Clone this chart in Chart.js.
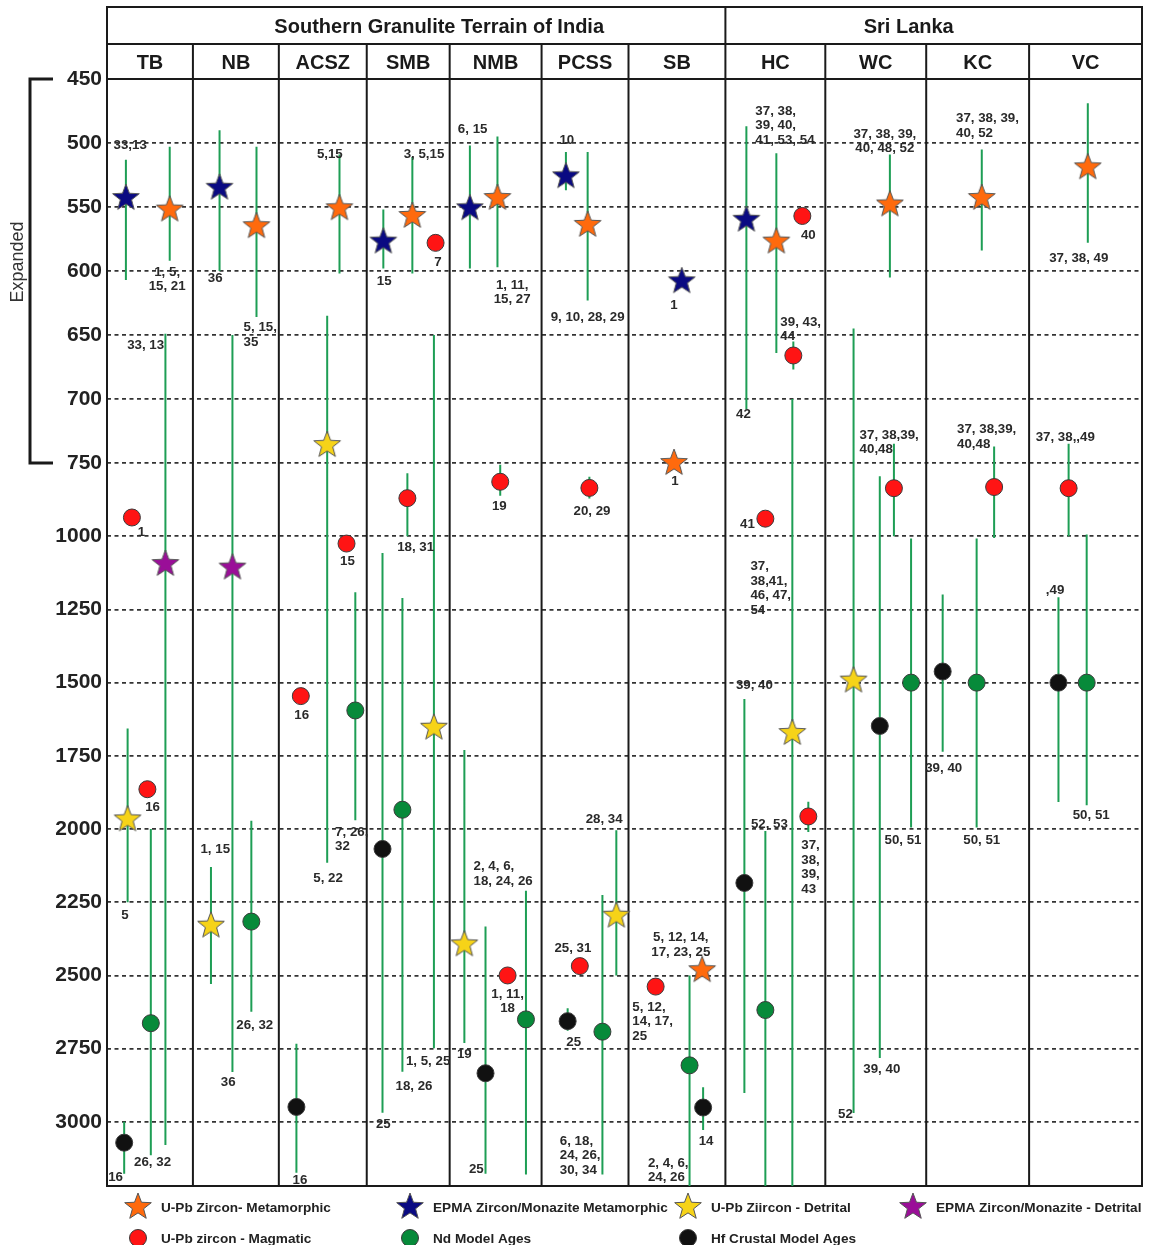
<!DOCTYPE html>
<html>
<head>
<meta charset="utf-8">
<script src="https://cdn.jsdelivr.net/npm/chart.js@4.4.1/dist/chart.umd.min.js"></script>
<style>
  html, body { margin: 0; padding: 0; background: #fff; }
  #wrap { width: 1157px; height: 1245px; }
</style>
</head>
<body>
<div id="wrap"><canvas id="grafico" width="1157" height="1245"></canvas></div>
<script>
// ================== DADOS ==================
const columns = ["TB", "NB", "ACSZ", "SMB", "NMB", "PCSS", "SB", "HC", "WC", "KC", "VC"];
const regionNames = ["Southern Granulite Terrain of India", "Sri Lanka"];
const regionFirstCol = ["TB", "HC"];
const yTicks = [450, 500, 550, 600, 650, 700, 750, 1000, 1250, 1500, 1750, 2000, 2250, 2500, 2750, 3000];
const AGE_MAX = 3219;

// [coluna, posição na coluna (0-1), idade Ma]
const metamorphic = [
  ["TB", 0.73, 552], ["NB", 0.74, 565], ["ACSZ", 0.69, 551], ["SMB", 0.55, 557], ["NMB", 0.52, 543],
  ["PCSS", 0.53, 564], ["SB", 0.47, 750], ["SB", 0.76, 2482], ["HC", 0.51, 577], ["WC", 0.64, 548],
  ["KC", 0.54, 543], ["VC", 0.52, 519]
];
const epmaMetamorphic = [
  ["TB", 0.22, 543], ["NB", 0.31, 535], ["SMB", 0.20, 577], ["NMB", 0.22, 551], ["PCSS", 0.28, 526],
  ["SB", 0.55, 608], ["HC", 0.21, 560]
];
const detrital = [
  ["TB", 0.24, 1967], ["NB", 0.21, 2330], ["ACSZ", 0.55, 736], ["SMB", 0.81, 1654], ["NMB", 0.16, 2394],
  ["PCSS", 0.86, 2296], ["HC", 0.67, 1672], ["WC", 0.28, 1493]
];
const epmaDetrital = [["TB", 0.68, 1095], ["NB", 0.46, 1107]];
const magmatic = [
  ["TB", 0.29, 936], ["TB", 0.47, 1864], ["ACSZ", 0.77, 1025], ["ACSZ", 0.25, 1546], ["SMB", 0.83, 578],
  ["SMB", 0.49, 870], ["NMB", 0.55, 814], ["NMB", 0.63, 2500], ["PCSS", 0.55, 835], ["PCSS", 0.44, 2468],
  ["SB", 0.28, 2538], ["HC", 0.77, 557], ["HC", 0.68, 666], ["HC", 0.40, 940], ["HC", 0.83, 1957],
  ["WC", 0.68, 836], ["KC", 0.66, 832], ["VC", 0.35, 836]
];
const ndModel = [
  ["TB", 0.51, 2663], ["NB", 0.68, 2316], ["ACSZ", 0.87, 1595], ["SMB", 0.43, 1934], ["NMB", 0.83, 2650],
  ["PCSS", 0.70, 2692], ["SB", 0.63, 2807], ["HC", 0.40, 2618], ["WC", 0.85, 1500], ["KC", 0.49, 1500],
  ["VC", 0.51, 1500]
];
const hfModel = [
  ["TB", 0.20, 3071], ["ACSZ", 0.20, 2949], ["SMB", 0.19, 2068], ["NMB", 0.39, 2834], ["PCSS", 0.30, 2656],
  ["SB", 0.77, 2951], ["HC", 0.19, 2184], ["WC", 0.54, 1648], ["KC", 0.16, 1462], ["VC", 0.26, 1500]
];

// [coluna, posição, idade mínima, idade máxima]
const ranges = [
  ["TB", 0.22, 513, 607], ["TB", 0.73, 503, 592], ["TB", 0.68, 649, 3079], ["TB", 0.24, 1657, 2250],
  ["TB", 0.51, 2000, 3114], ["TB", 0.20, 3000, 3177],
  ["NB", 0.31, 490, 600], ["NB", 0.74, 503, 636], ["NB", 0.46, 650, 2830], ["NB", 0.21, 2130, 2529],
  ["NB", 0.68, 1972, 2624],
  ["ACSZ", 0.69, 509, 602], ["ACSZ", 0.55, 635, 2115], ["ACSZ", 0.87, 1191, 1970], ["ACSZ", 0.20, 2733, 3174],
  ["SMB", 0.20, 552, 598], ["SMB", 0.55, 511, 602], ["SMB", 0.81, 650, 2749], ["SMB", 0.49, 785, 1000],
  ["SMB", 0.19, 1057, 2969], ["SMB", 0.43, 1211, 2829],
  ["NMB", 0.22, 502, 598], ["NMB", 0.52, 495, 597], ["NMB", 0.55, 756, 862], ["NMB", 0.16, 1730, 2731],
  ["NMB", 0.39, 2333, 3177], ["NMB", 0.83, 2211, 3180],
  ["PCSS", 0.28, 507, 537], ["PCSS", 0.53, 507, 623], ["PCSS", 0.55, 797, 871], ["PCSS", 0.86, 2004, 2500],
  ["PCSS", 0.30, 2612, 2689], ["PCSS", 0.70, 2225, 3180],
  ["SB", 0.63, 2500, 3219], ["SB", 0.77, 2882, 3028],
  ["HC", 0.21, 487, 708], ["HC", 0.51, 508, 664], ["HC", 0.68, 655, 677], ["HC", 0.67, 700, 3219],
  ["HC", 0.19, 1556, 2901], ["HC", 0.40, 2007, 3219], ["HC", 0.83, 1907, 2010],
  ["WC", 0.64, 509, 605], ["WC", 0.28, 645, 2970], ["WC", 0.68, 735, 1000], ["WC", 0.54, 795, 2782],
  ["WC", 0.85, 1008, 1995],
  ["KC", 0.54, 505, 584], ["KC", 0.66, 737, 1006], ["KC", 0.16, 1199, 1736], ["KC", 0.49, 1008, 1995],
  ["VC", 0.52, 469, 578], ["VC", 0.35, 735, 1000], ["VC", 0.26, 1208, 1908], ["VC", 0.51, 994, 1919]
];

// [coluna, posição, idade, texto, alinhamento]
const refLabels = [
  ["TB", 0.27, 502, "33,13"], ["TB", 0.70, 601, "1, 5,\n15, 21"], ["TB", 0.45, 658, "33, 13"],
  ["TB", 0.40, 986, "1"], ["TB", 0.21, 2293, "5"], ["TB", 0.53, 1925, "16"], ["TB", 0.53, 3137, "26, 32"],
  ["TB", 0.10, 3190, "16"],
  ["NB", 0.26, 606, "36"], ["NB", 0.59, 644, "5, 15,\n35", "left"], ["NB", 0.41, 2866, "36"],
  ["NB", 0.26, 2070, "1, 15"], ["NB", 0.72, 2671, "26, 32"],
  ["ACSZ", 0.58, 509, "5,15"], ["ACSZ", 0.56, 2170, "5, 22"], ["ACSZ", 0.78, 1087, "15"],
  ["ACSZ", 0.26, 1610, "16"], ["ACSZ", 0.64, 2010, "7, 26,\n32", "left"], ["ACSZ", 0.24, 3200, "16"],
  ["SMB", 0.21, 608, "15"], ["SMB", 0.69, 509, "3, 5,15"], ["SMB", 0.86, 593, "7"],
  ["SMB", 0.74, 2793, "1, 5, 25"], ["SMB", 0.59, 1037, "18, 31"], ["SMB", 0.20, 3010, "25"],
  ["SMB", 0.57, 2880, "18, 26"],
  ["NMB", 0.25, 489, "6, 15"], ["NMB", 0.68, 611, "1, 11,\n15, 27"], ["NMB", 0.54, 897, "19"],
  ["NMB", 0.16, 2771, "19"], ["NMB", 0.26, 2128, "2, 4, 6,\n18, 24, 26", "left"], ["NMB", 0.29, 3162, "25"],
  ["NMB", 0.63, 2564, "1, 11,\n18"],
  ["PCSS", 0.29, 498, "10"], ["PCSS", 0.53, 636, "9, 10, 28, 29"], ["PCSS", 0.58, 914, "20, 29"],
  ["PCSS", 0.72, 1967, "28, 34"], ["PCSS", 0.36, 2408, "25, 31"], ["PCSS", 0.37, 2729, "25"],
  ["PCSS", 0.21, 3065, "6, 18,\n24, 26,\n30, 34", "left"],
  ["SB", 0.47, 627, "1"], ["SB", 0.48, 814, "1"], ["SB", 0.04, 2608, "5, 12,\n14, 17,\n25", "left"],
  ["SB", 0.54, 2371, "5, 12, 14,\n17, 23, 25"], ["SB", 0.20, 3141, "2, 4, 6,\n24, 26", "left"],
  ["SB", 0.80, 3068, "14"],
  ["HC", 0.18, 712, "42"], ["HC", 0.30, 475, "37, 38,\n39, 40,\n41, 53, 54", "left"], ["HC", 0.83, 572, "40"],
  ["HC", 0.55, 640, "39, 43,\n44", "left"], ["HC", 0.22, 959, "41"],
  ["HC", 0.25, 1104, "37,\n38,41,\n46, 47,\n54", "left"], ["HC", 0.29, 1510, "39, 40"],
  ["HC", 0.44, 1984, "52, 53"], ["HC", 0.76, 2057, "37,\n38,\n39,\n43", "left"],
  ["WC", 0.59, 493, "37, 38, 39,\n40, 48, 52"], ["WC", 0.20, 2973, "52"],
  ["WC", 0.34, 728, "37, 38,39,\n40,48", "left"], ["WC", 0.56, 2821, "39, 40"], ["WC", 0.77, 2037, "50, 51"],
  ["KC", 0.29, 481, "37, 38, 39,\n40, 52", "left"], ["KC", 0.30, 724, "37, 38,39,\n40,48", "left"],
  ["KC", 0.17, 1791, "39, 40"], ["KC", 0.54, 2037, "50, 51"],
  ["VC", 0.44, 590, "37, 38, 49"], ["VC", 0.32, 730, "37, 38,,49"], ["VC", 0.23, 1184, ",49"],
  ["VC", 0.55, 1953, "50, 51"]
];

const legendLabels = [
  "U-Pb Zircon- Metamorphic", "EPMA Zircon/Monazite Metamorphic", "U-Pb Ziircon - Detrital",
  "EPMA Zircon/Monazite - Detrital", "U-Pb zircon - Magmatic", "Nd Model Ages", "Hf Crustal Model Ages"
];

// ================== LAYOUT / ESTILO ==================
const FONT = '"Liberation Sans", Arial, Helvetica, sans-serif';
const COL_W = [86, 86, 88, 83, 92, 87, 97, 100, 101, 103, 113];
const TOTAL_W = COL_W.reduce((a, b) => a + b, 0);
const EXP_PX = 64, CMP_PX = 73.2;   // escala expandida (50 Ma) x comprimida (250 Ma)
const REGION_DX = [23, -25];
const LEG_X = [138, 410, 688, 913];
const LEG_Y = [1207, 1238];
const COR = {
  meta: "#FF6A0D", epma: "#0A0A82", detr: "#F6D318", epmaDet: "#9A0E98",
  mag: "#FF1414", nd: "#078A3A", hf: "#111111", linha: "#1E9E55", texto: "#2a2a2a"
};

// ================== ESCALAS ==================
const kExp = EXP_PX / CMP_PX;
function pos(a) {
  return a <= 750 ? (a - 450) / 50 * kExp : 6 * kExp + (a - 750) / 250;
}
function colLeft(i) {
  let s = 0;
  for (let k = 0; k < i; k++) s += COL_W[k];
  return s;
}
function xOf(col, slot) {
  const i = columns.indexOf(col);
  return colLeft(i) + slot * COL_W[i];
}

// ================== ESTRELAS ==================
function estrela(cor) {
  const R = 14, r = R * 0.42, s = 32;
  const c = document.createElement("canvas");
  c.width = s; c.height = s;
  const g = c.getContext("2d");
  g.beginPath();
  for (let k = 0; k < 10; k++) {
    const rad = k % 2 ? r : R;
    const a = -Math.PI / 2 + k * Math.PI / 5;
    const px = s / 2 + rad * Math.cos(a), py = s / 2 + rad * Math.sin(a);
    if (k) g.lineTo(px, py); else g.moveTo(px, py);
  }
  g.closePath();
  g.fillStyle = cor; g.fill();
  g.lineWidth = 1; g.strokeStyle = "#555"; g.stroke();
  return c;
}
const estrelas = {
  meta: estrela(COR.meta), epma: estrela(COR.epma), detr: estrela(COR.detr), epmaDet: estrela(COR.epmaDet)
};

function pontos(lista) {
  return lista.map(([c, s, age]) => ({ x: xOf(c, s), y: pos(age) }));
}
const linhas = [];
ranges.forEach(([c, s, a, b]) => {
  const x = xOf(c, s);
  linhas.push({ x, y: pos(a) }, { x, y: pos(b) }, { x, y: null });
});

function dsEstrela(label, lista, img) {
  return { label, data: pontos(lista), pointStyle: img, pointRadius: 14, showLine: false };
}
function dsCirculo(label, lista, cor) {
  return {
    label, data: pontos(lista), pointStyle: "circle", pointRadius: 8.5,
    backgroundColor: cor, borderColor: "#3a3a3a", borderWidth: 1, showLine: false
  };
}

// ================== PLUGINS ==================
function linha(ctx, x1, y1, x2, y2) {
  ctx.beginPath(); ctx.moveTo(x1, y1); ctx.lineTo(x2, y2); ctx.stroke();
}

const quadro = {
  id: "quadro",
  beforeDatasetsDraw(chart) {
    const { ctx, chartArea: a, scales: { x } } = chart;
    const topo = 7, meio = 44;
    ctx.save();
    ctx.strokeStyle = "#1a1a1a";
    ctx.lineWidth = 2;
    ctx.strokeRect(a.left, topo, a.right - a.left, a.bottom - topo);
    linha(ctx, a.left, meio, a.right, meio);
    linha(ctx, a.left, a.top, a.right, a.top);
    const inicios = regionFirstCol.map(c => columns.indexOf(c));
    for (let i = 1; i < columns.length; i++) {
      const px = x.getPixelForValue(colLeft(i));
      linha(ctx, px, inicios.includes(i) ? topo : meio, px, a.bottom);
    }
    // cabeçalhos
    ctx.fillStyle = "#1a1a1a";
    ctx.textAlign = "center";
    ctx.textBaseline = "middle";
    ctx.font = "bold 20px " + FONT;
    regionNames.forEach((nome, r) => {
      const i0 = inicios[r];
      const i1 = r + 1 < inicios.length ? inicios[r + 1] : columns.length;
      const x0 = x.getPixelForValue(colLeft(i0)), x1 = x.getPixelForValue(colLeft(i1));
      ctx.fillText(nome, (x0 + x1) / 2 + REGION_DX[r], (topo + meio) / 2 + 2);
    });
    columns.forEach((c, i) => {
      const x0 = x.getPixelForValue(colLeft(i)), x1 = x.getPixelForValue(colLeft(i + 1));
      ctx.fillText(c, (x0 + x1) / 2, (meio + a.top) / 2 + 2);
    });
    ctx.restore();
  }
};

const rotulos = {
  id: "rotulos",
  afterDatasetsDraw(chart) {
    const { ctx, scales: { x, y } } = chart;
    ctx.save();
    ctx.font = "bold 13.3px " + FONT;
    ctx.fillStyle = COR.texto;
    ctx.textBaseline = "middle";
    refLabels.forEach(([c, s, age, txt, al]) => {
      ctx.textAlign = al || "center";
      const px = x.getPixelForValue(xOf(c, s)), py = y.getPixelForValue(pos(age));
      txt.split("\n").forEach((l, k) => ctx.fillText(l, px, py + k * 14.5));
    });
    ctx.restore();
  }
};

const extras = {
  id: "extras",
  afterDraw(chart) {
    const { ctx, scales: { y } } = chart;
    ctx.save();
    // colchete "Expanded"
    const y0 = y.getPixelForValue(pos(450)), y1 = y.getPixelForValue(pos(750));
    ctx.strokeStyle = "#1a1a1a";
    ctx.lineWidth = 3;
    ctx.beginPath();
    ctx.moveTo(53, y0); ctx.lineTo(30, y0); ctx.lineTo(30, y1); ctx.lineTo(53, y1);
    ctx.stroke();
    ctx.translate(18, 262);
    ctx.rotate(-Math.PI / 2);
    ctx.fillStyle = "#333";
    ctx.font = "18px " + FONT;
    ctx.textAlign = "center";
    ctx.textBaseline = "middle";
    ctx.fillText("Expanded", 0, 0);
    ctx.restore();

    // legenda
    const simbolos = [
      estrelas.meta, estrelas.epma, estrelas.detr, estrelas.epmaDet, COR.mag, COR.nd, COR.hf
    ];
    ctx.save();
    ctx.font = "bold 13.6px " + FONT;
    ctx.textBaseline = "middle";
    ctx.textAlign = "left";
    legendLabels.forEach((t, i) => {
      const lx = LEG_X[i % 4], ly = LEG_Y[Math.floor(i / 4)];
      const sim = simbolos[i];
      if (typeof sim === "string") {
        ctx.beginPath();
        ctx.arc(lx, ly, 8.5, 0, Math.PI * 2);
        ctx.fillStyle = sim; ctx.fill();
        ctx.lineWidth = 1; ctx.strokeStyle = "#3a3a3a"; ctx.stroke();
      } else {
        ctx.drawImage(sim, lx - sim.width / 2, ly - sim.height / 2);
      }
      ctx.fillStyle = "#222";
      ctx.fillText(t, lx + 23, ly + 1);
    });
    ctx.restore();
  }
};

// ================== GRÁFICO ==================
const ctx = document.getElementById("grafico").getContext("2d");
const grafico = new Chart(ctx, {
  type: "scatter",
  data: {
    datasets: [
      dsEstrela("U-Pb Zircon- Metamorphic", metamorphic, estrelas.meta),
      dsEstrela("EPMA Zircon/Monazite Metamorphic", epmaMetamorphic, estrelas.epma),
      dsEstrela("U-Pb Ziircon - Detrital", detrital, estrelas.detr),
      dsEstrela("EPMA Zircon/Monazite - Detrital", epmaDetrital, estrelas.epmaDet),
      dsCirculo("U-Pb zircon - Magmatic", magmatic, COR.mag),
      dsCirculo("Nd Model Ages", ndModel, COR.nd),
      dsCirculo("Hf Crustal Model Ages", hfModel, COR.hf),
      {
        label: "ranges", data: linhas, showLine: true, spanGaps: false,
        borderColor: COR.linha, borderWidth: 2, pointRadius: 0
      }
    ]
  },
  options: {
    responsive: false,
    animation: false,
    events: [],
    layout: { padding: { top: 79, right: 14, bottom: 59, left: 0 } },
    plugins: { legend: { display: false }, tooltip: { enabled: false } },
    scales: {
      x: { type: "linear", min: 0, max: TOTAL_W, display: false },
      y: {
        type: "linear",
        reverse: true,
        min: 0,
        max: pos(AGE_MAX),
        afterBuildTicks: (s) => { s.ticks = yTicks.map(v => ({ value: pos(v) })); },
        afterFit: (s) => { s.width = 107; },
        ticks: {
          autoSkip: false,
          padding: 5,
          color: "#222",
          font: { family: FONT, size: 21, weight: "bold" },
          callback: (v, i) => yTicks[i]
        },
        grid: { color: "#333", lineWidth: 1.8, drawTicks: false },
        border: { display: false, dash: [4, 3.5] }
      }
    }
  },
  plugins: [quadro, rotulos, extras]
});
</script>
</body>
</html>
